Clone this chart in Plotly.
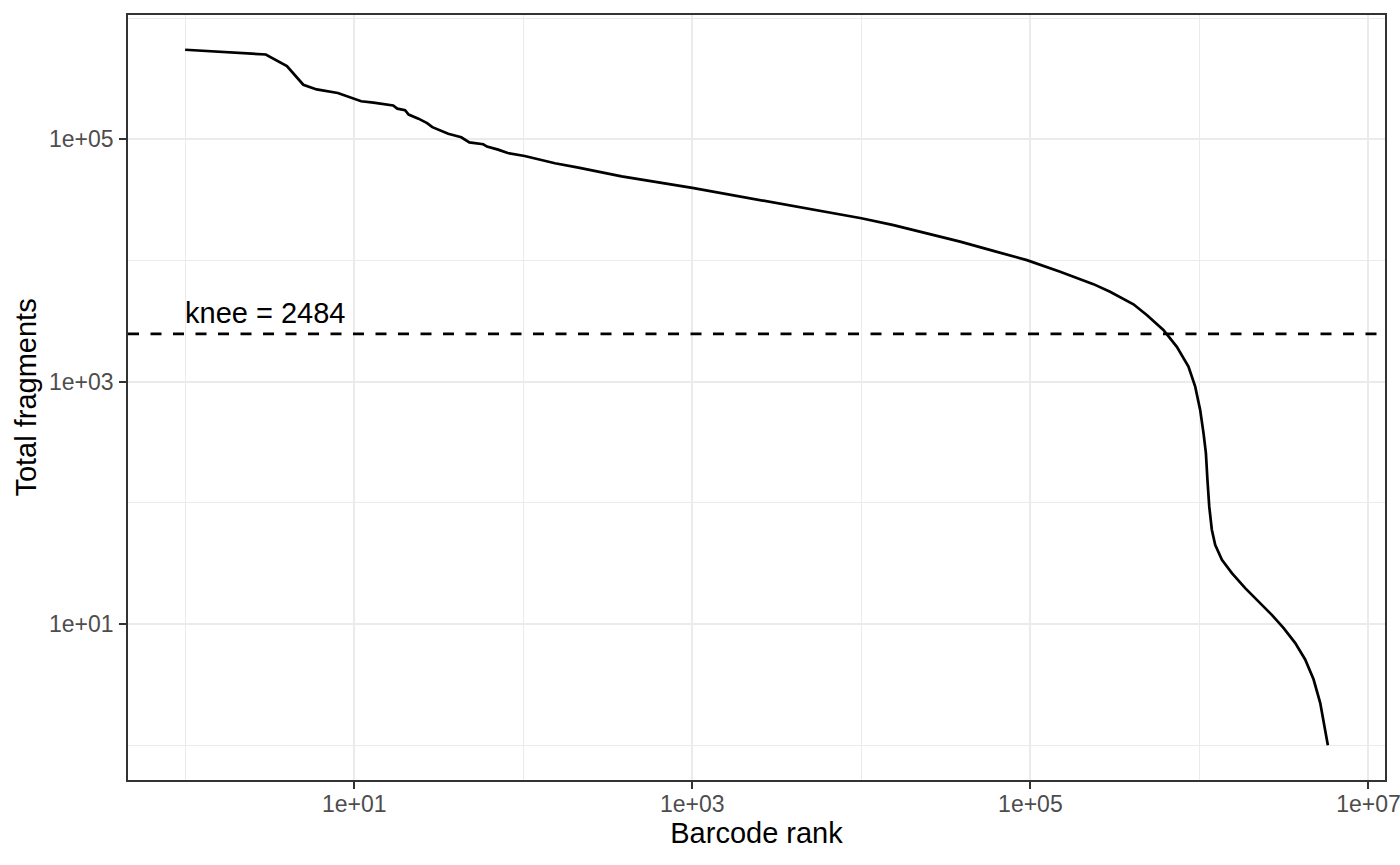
import numpy as np
import plotly.graph_objects as go

# ---- data (barcode rank vs total fragments) ----
RANK = [1, 3, 4, 5, 6, 8, 11, 13, 17, 18, 20, 21, 24, 27, 29, 36, 43, 48, 58, 61,
        71, 81, 102, 128, 154, 212, 382, 1000, 1970, 3990, 10000, 15500, 24400,
        38400, 60400, 95300, 150000, 236000, 296000, 407000, 488000, 612000,
        735000, 861000, 944000, 1010000, 1057000, 1092000, 1115000, 1143000,
        1184000, 1239000, 1358000, 1556000, 1865000, 2235000, 2680000, 3140000,
        3680000, 4220000, 4730000, 5180000, 5420000, 5750000]
FRAGMENTS = [548000, 501000, 402000, 282000, 258000, 241000, 206000, 201000, 190000,
             179000, 174000, 160000, 148000, 136000, 126000, 111000, 104000, 94400,
             91000, 87100, 82200, 77100, 72800, 67100, 63400, 58400, 49500, 39700,
             33500, 28000, 22300, 19600, 16700, 14300, 12000, 10070, 8060, 6380,
             5520, 4350, 3550, 2670, 1940, 1330, 909, 585, 376, 257, 155, 93, 60,
             45, 33.9, 26.3, 19.8, 15.4, 11.9, 9.3, 7.0, 5.1, 3.5, 2.24, 1.53, 1]
KNEE = 2484

X_TICKS = [10, 1000, 100000, 10000000]
X_TICK_TEXT = ["1e+01", "1e+03", "1e+05", "1e+07"]
X_MINOR = [1, 100, 10000, 1000000]
Y_TICKS = [10, 1000, 100000]
Y_TICK_TEXT = ["1e+01", "1e+03", "1e+05"]
Y_MINOR = [1, 100, 10000, 1000000]

X_TITLE = "Barcode rank"
Y_TITLE = "Total fragments"


# ggplot-like 5% expansion in log space
def expanded(vals):
    lo, hi = np.log10(min(vals)), np.log10(max(vals))
    pad = 0.05 * (hi - lo)
    return [lo - pad, hi + pad]


FONT = "Liberation Sans, Arial, Helvetica, sans-serif"
GRID = "#EBEBEB"
DARK = "#333333"

fig = go.Figure()
fig.add_trace(go.Scatter(x=RANK, y=FRAGMENTS, mode="lines",
                         line=dict(color="black", width=2.7),
                         showlegend=False, hoverinfo="skip"))

fig.add_hline(y=KNEE, line=dict(color="black", width=2.7, dash="11px,11.5px"))

fig.add_annotation(x=np.log10(RANK[0]), y=np.log10(KNEE), xref="x", yref="y",
                   text=f"knee = {KNEE}", showarrow=False,
                   xanchor="left", yanchor="bottom", xshift=-2, yshift=3,
                   font=dict(family=FONT, size=29, color="black"))

axis_common = dict(
    type="log", showline=True, mirror=True, linecolor=DARK, linewidth=1.7,
    ticks="outside", ticklen=7, tickwidth=2, tickcolor=DARK,
    tickfont=dict(family=FONT, size=23, color="#4D4D4D"),
    showgrid=True, gridcolor=GRID, gridwidth=2.2, zeroline=False,
    automargin=False, ticklabeloverflow="allow",
)

fig.update_xaxes(**axis_common, range=expanded(RANK),
                 tickmode="array", tickvals=X_TICKS, ticktext=X_TICK_TEXT,
                 ticklabelstandoff=-4,
                 minor=dict(tickmode="array", tickvals=X_MINOR, showgrid=True,
                            gridcolor=GRID, gridwidth=1.3, ticks=""),
                 title=dict(text=X_TITLE, font=dict(family=FONT, size=29, color="black"),
                            standoff=4))
fig.update_yaxes(**axis_common, range=expanded(FRAGMENTS),
                 tickmode="array", tickvals=Y_TICKS, ticktext=Y_TICK_TEXT,
                 ticklabelstandoff=1,
                 minor=dict(tickmode="array", tickvals=Y_MINOR, showgrid=True,
                            gridcolor=GRID, gridwidth=1.3, ticks=""),
                 title=dict(text=Y_TITLE, font=dict(family=FONT, size=29, color="black"),
                            standoff=4))

fig.update_layout(
    width=1400, height=865,
    margin=dict(l=128, r=15, t=15, b=85),
    plot_bgcolor="white", paper_bgcolor="white",
    font=dict(family=FONT),
)

fig.write_html(
    "out.html",
    config={"displayModeBar": False},
    post_script="document.body.style.margin='0';document.body.style.overflow='hidden';",
)
